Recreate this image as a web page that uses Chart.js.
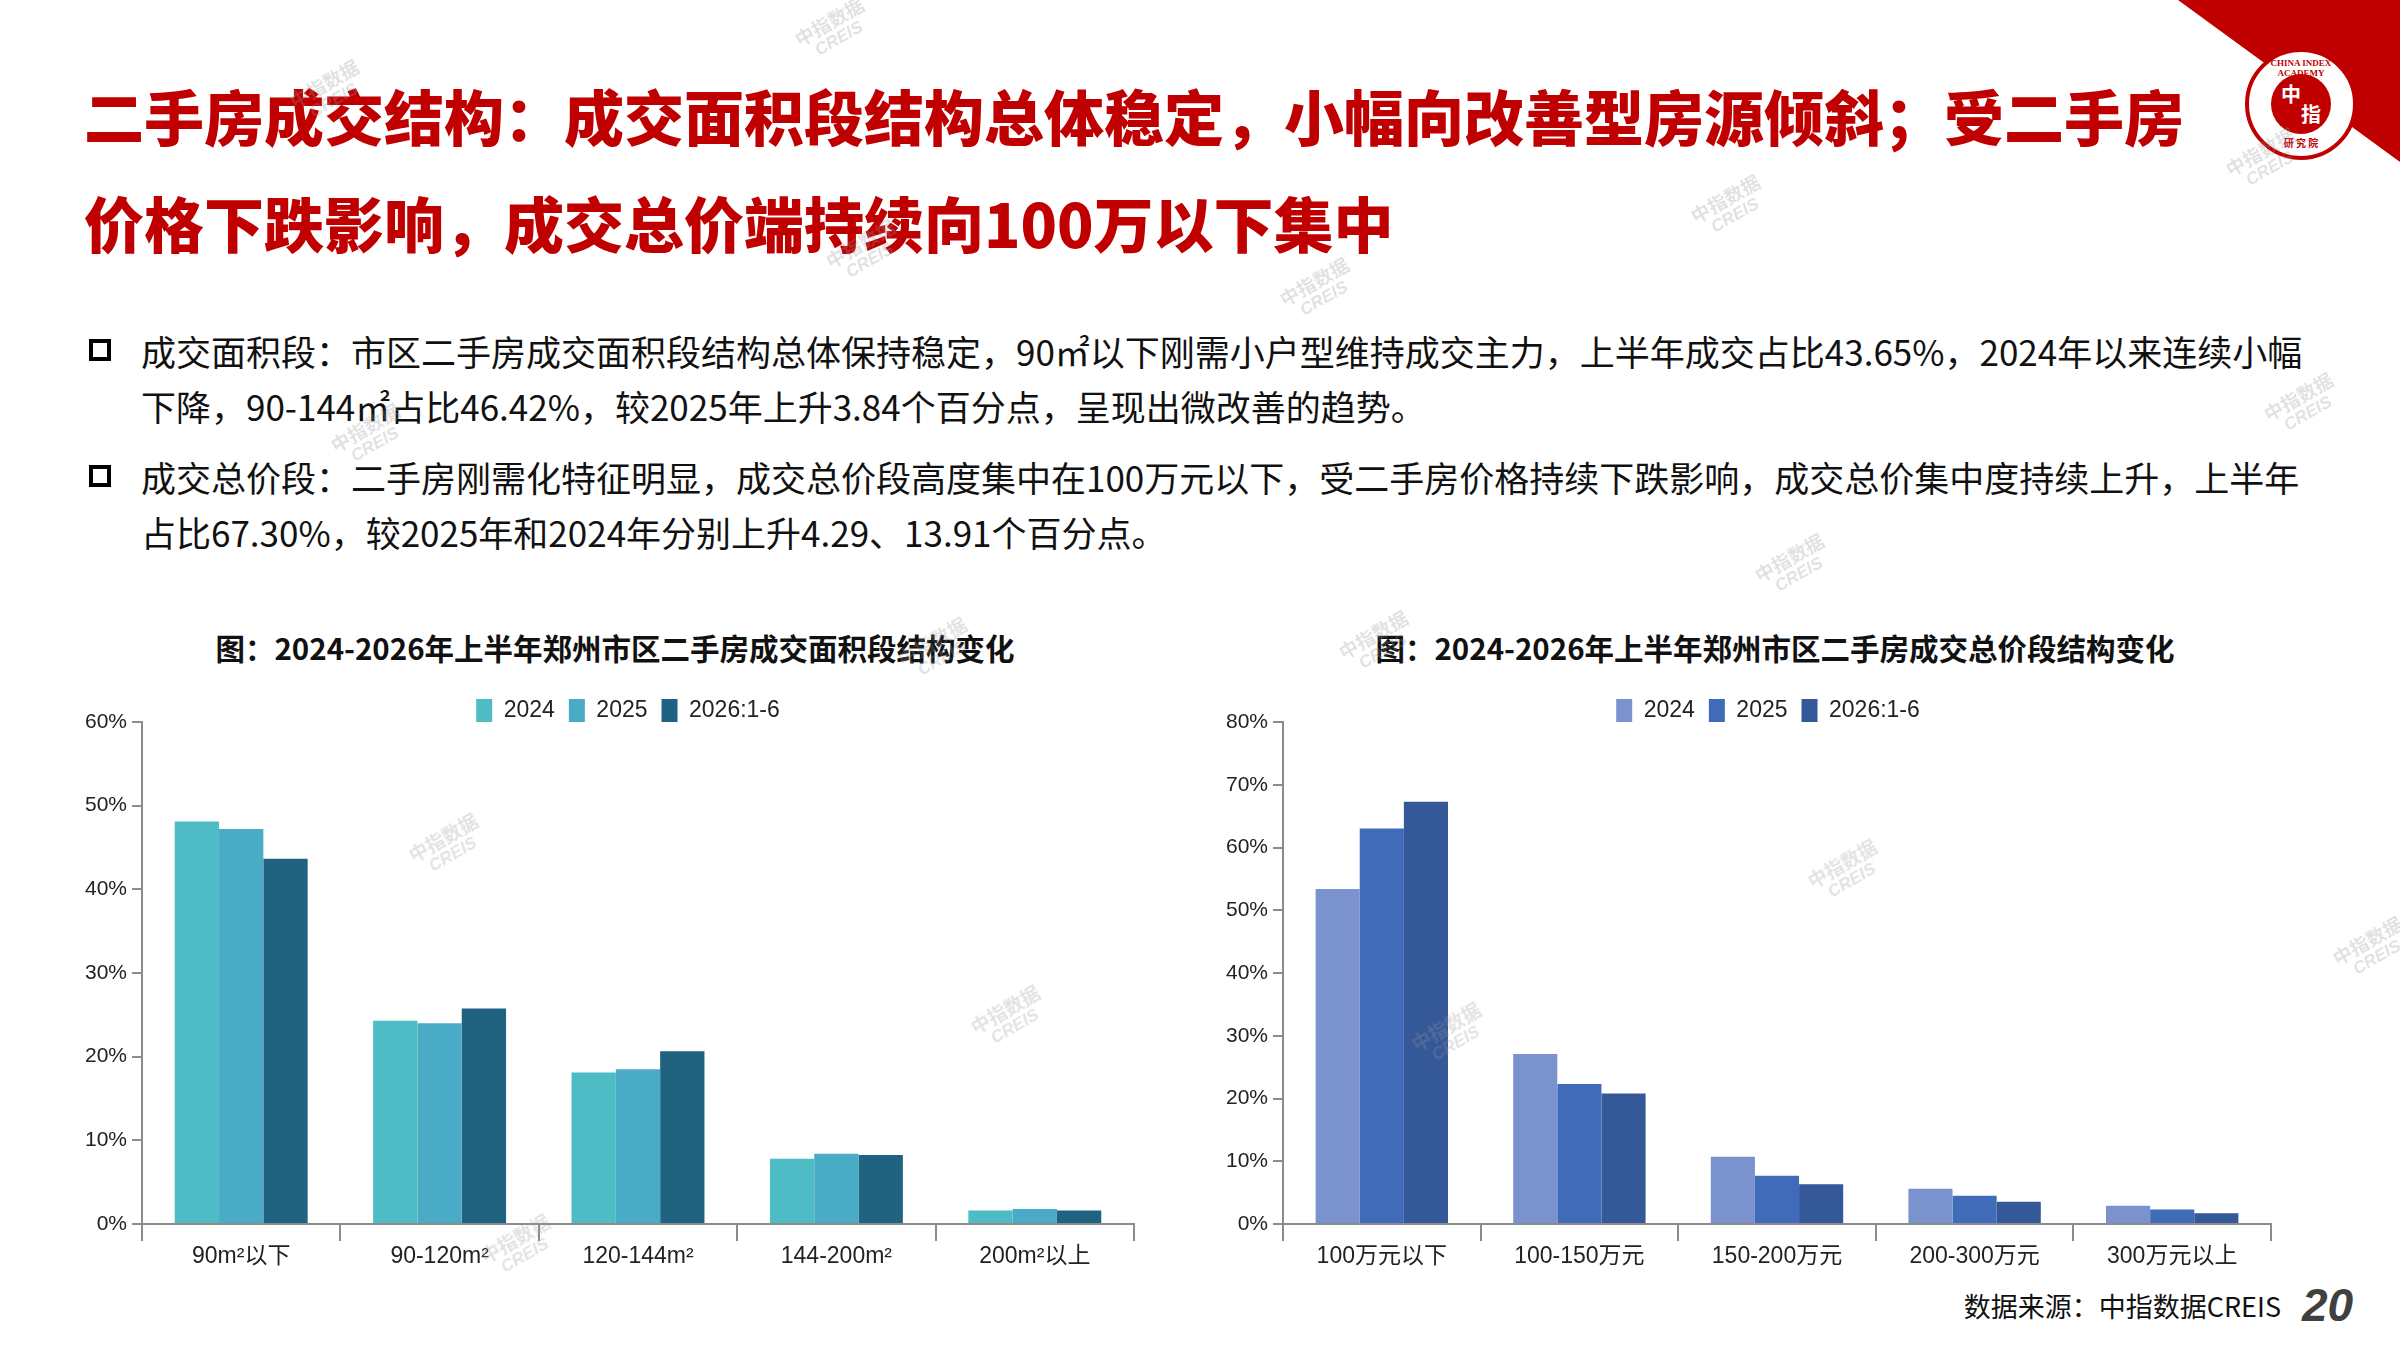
<!DOCTYPE html>
<html lang="zh">
<head>
  <meta charset="UTF-8">
  <title>二手房成交结构</title>
  <script src="https://cdn.jsdelivr.net/npm/chart.js"></script>
  <style>
    body {
      margin: 0;
      width: 2400px;
      height: 1350px;
      position: relative;
      overflow: hidden;
      background: #fff;
      font-family: "Noto Sans CJK SC", sans-serif;
    }
    .corner {
      position: absolute;
      left: 2178px;
      top: 0;
      width: 222px;
      height: 162px;
      background: #c00000;
      clip-path: polygon(0 0, 100% 0, 100% 100%);
    }
    .logo {
      position: absolute;
      left: 2245px;
      top: 48px;
      width: 112px;
      height: 112px;
      border-radius: 50%;
      background: #fff;
      border: 4px solid #c00000;
      box-sizing: border-box;
    }
    .logo .inner {
      position: absolute;
      left: 22px;
      top: 22px;
      width: 60px;
      height: 60px;
      border-radius: 50%;
      background: #c00000;
      color: #fff;
      font-weight: 700;
      font-size: 20px;
      line-height: 1;
    }
    .logo .inner span { position: absolute; }
    .logo .ring {
      position: absolute;
      width: 100%;
      top: 6px;
      text-align: center;
      font-family: "Liberation Serif", serif;
      font-size: 9px;
      font-weight: 700;
      color: #c00000;
    }
    .logo .ring.bottom { top: auto; bottom: 6px; font-family: "Noto Sans CJK SC"; font-size: 10px; }
    h1 {
      position: absolute;
      left: 84px;
      margin: 0;
      font-size: 60px;
      font-weight: 900;
      color: #c00000;
      white-space: nowrap;
      line-height: 1;
    }
    .line {
      position: absolute;
      left: 141px;
      font-size: 35px;
      color: #111;
      white-space: nowrap;
      line-height: 1;
      transform: translateY(-50%);
    }
    .bullet {
      position: absolute;
      left: 89px;
      width: 22px;
      height: 22px;
      border: 4px solid #000;
      box-sizing: border-box;
    }
    .ctitle {
      position: absolute;
      top: 630px;
      font-size: 29.5px;
      font-weight: 700;
      color: #111;
      white-space: nowrap;
      line-height: 34px;
      transform: translateX(-50%);
    }
    .box {
      position: absolute;
      top: 685px;
      height: 599px;
    }
    .source {
      position: absolute;
      right: 119px;
      top: 1289px;
      font-size: 27px;
      color: #111;
      line-height: 34px;
    }
    .page {
      position: absolute;
      left: 2302px;
      top: 1282px;
      font-family: "Liberation Sans", sans-serif;
      font-size: 46px;
      font-weight: 700;
      font-style: italic;
      color: #404040;
      line-height: 46px;
    }
    .wm {
      position: absolute;
      color: rgba(150, 150, 150, 0.28);
      font-size: 19px;
      font-weight: 700;
      line-height: 20px;
      text-align: center;
      white-space: nowrap;
      transform: translate(-50%, -50%) rotate(-30deg);
      pointer-events: none;
    }
    .wm i { display: block; font-family: "Liberation Sans", sans-serif; font-size: 17px; }
  </style>
</head>
<body>
  <div class="corner"></div>
  <div class="logo">
    <div class="ring">CHINA INDEX ACADEMY</div>
    <div class="inner"><span style="left:10px;top:10px">中</span><span style="left:30px;top:30px">指</span></div>
    <div class="ring bottom">研 究 院</div>
  </div>

  <h1 style="top:85px">二手房成交结构：成交面积段结构总体稳定，小幅向改善型房源倾斜；受二手房</h1>
  <h1 style="top:192px">价格下跌影响，成交总价端持续向100万以下集中</h1>

  <div class="bullet" style="top:339px"></div>
  <div class="line" style="top:350px">成交面积段：市区二手房成交面积段结构总体保持稳定，90㎡以下刚需小户型维持成交主力，上半年成交占比43.65%，2024年以来连续小幅</div>
  <div class="line" style="top:405px">下降，90-144㎡占比46.42%，较2025年上升3.84个百分点，呈现出微改善的趋势。</div>
  <div class="bullet" style="top:465px"></div>
  <div class="line" style="top:476px">成交总价段：二手房刚需化特征明显，成交总价段高度集中在100万元以下，受二手房价格持续下跌影响，成交总价集中度持续上升，上半年</div>
  <div class="line" style="top:531px">占比67.30%，较2025年和2024年分别上升4.29、13.91个百分点。</div>

  <div class="ctitle" style="left:615px">图：2024-2026年上半年郑州市区二手房成交面积段结构变化</div>
  <div class="ctitle" style="left:1775px">图：2024-2026年上半年郑州市区二手房成交总价段结构变化</div>

  <div class="box" style="left:40px;width:1110px"><canvas id="areaChart"></canvas></div>
  <div class="box" style="left:1181px;width:1106px"><canvas id="priceChart"></canvas></div>

  <div class="source">数据来源：中指数据CREIS</div>
  <div class="page">20</div>

  <div class="wm" style="left:834px;top:30px">中指数据<i>CREIS</i></div>
  <div class="wm" style="left:329px;top:92px">中指数据<i>CREIS</i></div>
  <div class="wm" style="left:2265px;top:160px">中指数据<i>CREIS</i></div>
  <div class="wm" style="left:1730px;top:207px">中指数据<i>CREIS</i></div>
  <div class="wm" style="left:865px;top:252px">中指数据<i>CREIS</i></div>
  <div class="wm" style="left:1319px;top:290px">中指数据<i>CREIS</i></div>
  <div class="wm" style="left:2303px;top:405px">中指数据<i>CREIS</i></div>
  <div class="wm" style="left:370px;top:436px">中指数据<i>CREIS</i></div>
  <div class="wm" style="left:1794px;top:566px">中指数据<i>CREIS</i></div>
  <div class="wm" style="left:1378px;top:643px">中指数据<i>CREIS</i></div>
  <div class="wm" style="left:937px;top:650px">中指数据<i>CREIS</i></div>
  <div class="wm" style="left:448px;top:846px">中指数据<i>CREIS</i></div>
  <div class="wm" style="left:1847px;top:872px">中指数据<i>CREIS</i></div>
  <div class="wm" style="left:2372px;top:949px">中指数据<i>CREIS</i></div>
  <div class="wm" style="left:1010px;top:1018px">中指数据<i>CREIS</i></div>
  <div class="wm" style="left:1451px;top:1035px">中指数据<i>CREIS</i></div>
  <div class="wm" style="left:520px;top:1247px">中指数据<i>CREIS</i></div>

  <script>
    // 面积段
    const areaLabels = ["90m²以下", "90-120m²", "120-144m²", "144-200m²", "200m²以上"];
    const area2024 = [48.1, 24.3, 18.1, 7.8, 1.6];
    const area2025 = [47.2, 24.0, 18.5, 8.4, 1.8];
    const area2026 = [43.65, 25.76, 20.66, 8.25, 1.6];

    // 总价段
    const priceLabels = ["100万元以下", "100-150万元", "150-200万元", "200-300万元", "300万元以上"];
    const price2024 = [53.39, 27.1, 10.7, 5.6, 2.9];
    const price2025 = [63.01, 22.3, 7.7, 4.5, 2.3];
    const price2026 = [67.30, 20.8, 6.35, 3.55, 1.7];

    const seriesNames = ["2024", "2025", "2026:1-6"];
    const areaTicksMax = 60;
    const priceTicksMax = 80;

    const tickFont = "'Liberation Sans Narrow', 'Liberation Sans', 'Noto Sans CJK SC', sans-serif";

    // legend: a bit tighter to the plot, and centred over the plot instead of the canvas
    function legendTweak(shift) {
      return {
        id: 'legendTweak',
        beforeInit(chart) {
          const lg = chart.legend;
          const fit = lg.fit;
          lg.fit = function() {
            fit.call(this);
            this.height = 37;
          };
          const draw = lg.draw;
          lg.draw = function() {
            this.left += shift; this.right += shift;
            draw.call(this);
            this.left -= shift; this.right -= shift;
          };
        }
      };
    }

    function makeBarChart(id, labels, values, colors, yMax, legendShift) {
      new Chart(document.getElementById(id), {
        type: 'bar',
        data: {
          labels: labels,
          datasets: values.map((v, i) => ({
            label: seriesNames[i],
            data: v,
            backgroundColor: colors[i],
            borderWidth: 0,
            categoryPercentage: 0.67,
            barPercentage: 1.0
          }))
        },
        options: {
          responsive: true,
          maintainAspectRatio: false,
          animation: false,
          layout: { padding: { top: 0, right: 16, bottom: 0, left: 0 } },
          plugins: {
            legend: {
              position: 'top',
              labels: {
                boxWidth: 16,
                boxHeight: 24,
                padding: 14,
                color: '#222',
                font: { size: 23, family: tickFont }
              }
            },
            tooltip: { enabled: false }
          },
          scales: {
            x: {
              border: { color: '#8c8c8c', width: 2 },
              grid: { display: true, drawOnChartArea: false, drawTicks: true, tickLength: 17, color: '#8c8c8c', lineWidth: 2, offset: true },
              ticks: { color: '#222', padding: 2, font: { size: 23, family: tickFont } },
              afterFit(scale) { scale.height = 60; }
            },
            y: {
              min: 0,
              max: yMax,
              border: { color: '#8c8c8c', width: 2 },
              grid: { display: true, drawOnChartArea: false, drawTicks: true, tickLength: 10, color: '#8c8c8c', lineWidth: 2 },
              ticks: {
                stepSize: 10,
                color: '#222',
                padding: 5,
                font: { size: 21, family: tickFont },
                callback: v => v + '%'
              },
              afterFit(scale) { scale.width = 102; }
            }
          }
        },
        plugins: [legendTweak(legendShift)]
      });
    }

    makeBarChart('areaChart', areaLabels, [area2024, area2025, area2026],
      ['#4ebcc5', '#4aabc7', '#1f6381'], areaTicksMax, 41);

    makeBarChart('priceChart', priceLabels, [price2024, price2025, price2026],
      ['#7a93ce', '#3f6bb8', '#355899'], priceTicksMax, 42);
  </script>
</body>
</html>
